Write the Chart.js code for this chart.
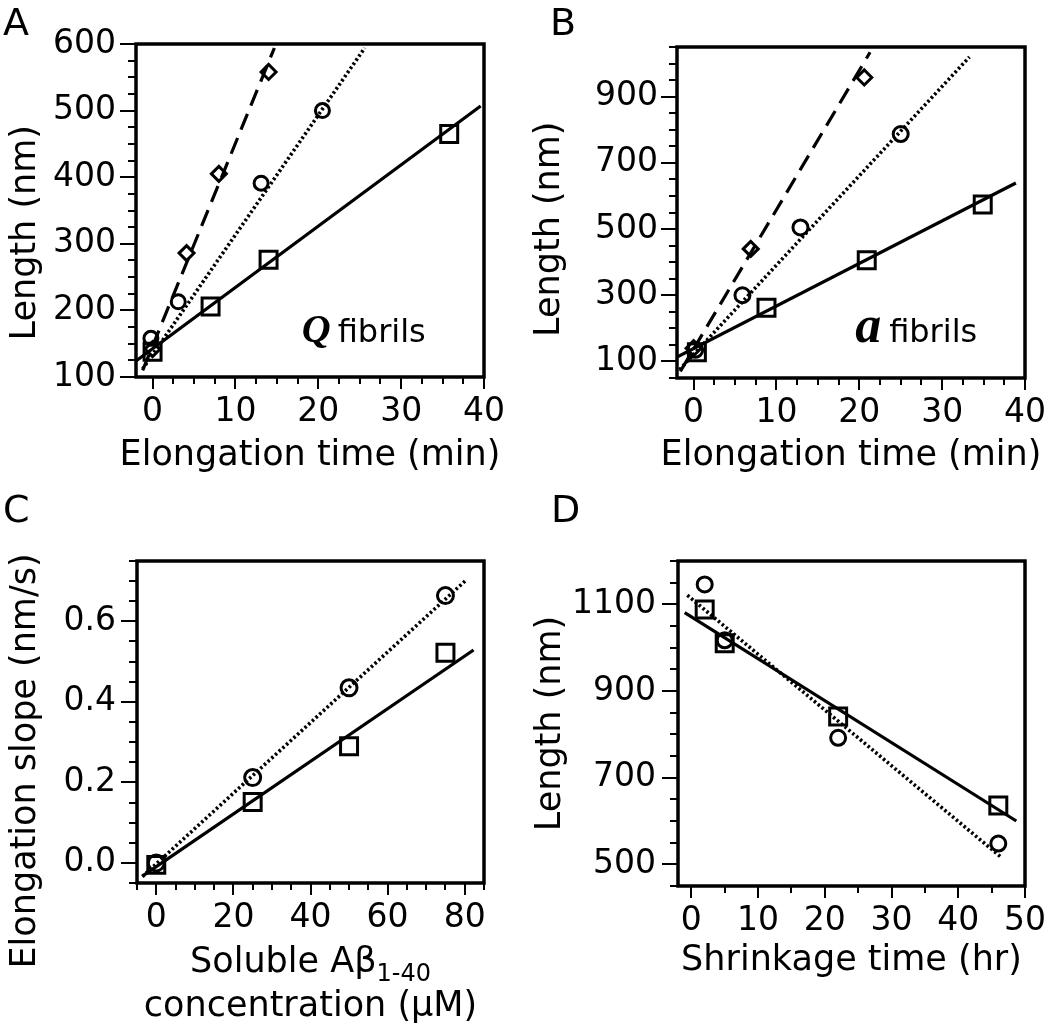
<!DOCTYPE html>
<html lang="en">
<head>
<meta charset="UTF-8">
<title>Fibril elongation and shrinkage</title>
<style>
  body { margin: 0; background: #fff; font-family: "DejaVu Sans", sans-serif; }
  .wrap { position: relative; width: 1050px; height: 1032px; }
  .panel { position: absolute; width: 525px; height: 516px; }
  .letter { position: absolute; font-size: 38px; line-height: 1; color: #000; }
</style>
<script src="https://cdn.jsdelivr.net/npm/chart.js"></script>
</head>
<body>
<div class="wrap">
  <div class="panel" style="left:0;top:0"><canvas id="chartA"></canvas></div>
  <div class="panel" style="left:525px;top:0"><canvas id="chartB"></canvas></div>
  <div class="panel" style="left:0;top:516px"><canvas id="chartC"></canvas></div>
  <div class="panel" style="left:525px;top:516px"><canvas id="chartD"></canvas></div>
  <div class="letter" style="left:3px;top:3px">A</div>
  <div class="letter" style="left:550px;top:3px">B</div>
  <div class="letter" style="left:3px;top:490px">C</div>
  <div class="letter" style="left:551px;top:490px">D</div>
</div>

<script>
// Panel A - Q fibrils (elongation time, min / length, nm)
const aSqX = [0, 7, 14, 35.8];
const aSqY = [138, 206, 276, 465];
const aCiX = [-0.2, 3.1, 13.1, 20.5];
const aCiY = [158, 213, 391, 500];
const aDiX = [0, 4.1, 8, 14];
const aDiY = [142, 286, 405, 558];
const aSqFitX = [-2, 39.6];
const aSqFitY = [124, 507];
const aCiFitX = [-1.2, 25.6];
const aCiFitY = [112, 594];
const aDiFitX = [-1.2, 14.7];
const aDiFitY = [110, 594];

// Panel B - a fibrils
const bSqX = [0.4, 8.8, 20.9, 34.9];
const bSqY = [128, 262, 406, 574];
const bCiX = [0.2, 5.9, 12.9, 25];
const bCiY = [135, 300, 505, 787];
const bDiX = [0, 6.9, 20.6];
const bDiY = [140, 440, 958];
const bSqFitX = [-2, 38.9];
const bSqFitY = [113, 639];
const bCiFitX = [-1.7, 33.3];
const bCiFitY = [75, 1020];
const bDiFitX = [-1.6, 21.3];
const bDiFitY = [70, 1034];

// Panel C - elongation slope vs soluble Abeta concentration
const cConc = [0, 25, 50, 75];
const cSqY = [-0.005, 0.151, 0.29, 0.522];
const cCiY = [0, 0.212, 0.435, 0.664];
const cSqFitX = [-3.6, 82.3];
const cSqFitY = [-0.033, 0.529];
const cCiFitX = [-3.6, 80.3];
const cCiFitY = [-0.034, 0.702];

// Panel D - shrinkage
const dTime = [2, 5, 22, 46];
const dSqY = [1088, 1010, 841, 636];
const dCiY = [1146, 1017, 792, 548];
const dSqFitX = [-1, 48.7];
const dSqFitY = [1081, 600];
const dCiFitX = [-0.6, 46.3];
const dCiFitY = [1121, 518];

const FONT = '"DejaVu Sans", sans-serif';
const TITLE_SIZE = 35;
const xy = (xs, ys) => xs.map((x, i) => ({ x: x, y: ys[i] }));

function pts(xs, ys, style, r) {
    return {
        data: xy(xs, ys), showLine: false, pointStyle: style, pointRadius: r,
        pointBorderWidth: 3, pointBorderColor: '#000', pointBackgroundColor: 'rgba(0,0,0,0)'
    };
}
function fit(xs, ys, dash, w) {
    return {
        data: xy(xs, ys), showLine: true, pointRadius: 0, borderColor: '#000',
        borderWidth: w || 3.2, borderDash: dash, borderCapStyle: 'butt'
    };
}
const SOLID = [];
const DOTTED = [2.5, 2.5];
const DASHED = [17, 9];

// box around the plot and tick marks of two lengths
const frame = {
    id: 'frame',
    afterDraw(chart) {
        const { ctx, chartArea: a, scales } = chart;
        ctx.save();
        ctx.strokeStyle = '#000';
        ctx.lineWidth = 2;
        ctx.beginPath();
        scales.x.ticks.forEach(t => {
            if (t.value < scales.x.min || t.value > scales.x.max) return;
            const px = Math.round(scales.x.getPixelForValue(t.value));
            ctx.moveTo(px, a.bottom);
            ctx.lineTo(px, a.bottom + (t.label !== '' ? 12 : 7));
        });
        scales.y.ticks.forEach(t => {
            if (t.value < scales.y.min || t.value > scales.y.max) return;
            const py = Math.round(scales.y.getPixelForValue(t.value));
            ctx.moveTo(a.left, py);
            ctx.lineTo(a.left - (t.label !== '' ? 16 : 8), py);
        });
        ctx.stroke();
        ctx.lineWidth = 3.5;
        ctx.strokeRect(a.left, a.top, a.right - a.left, a.bottom - a.top);
        ctx.restore();
    }
};

// x-axis title drawn at full width (the built-in one is squeezed to the axis width)
// each line: {dy: baseline below plot bottom, parts: [[text, size, shift], ...]}
function xTitle(lines) {
    return {
        id: 'xTitle',
        afterDraw(chart) {
            const { ctx, chartArea: a } = chart;
            ctx.save();
            ctx.fillStyle = '#000';
            ctx.textBaseline = 'alphabetic';
            lines.forEach(line => {
                const widths = line.parts.map(pt => {
                    ctx.font = pt[1] + 'px ' + FONT;
                    return ctx.measureText(pt[0]).width;
                });
                let x = (a.left + a.right) / 2 - widths.reduce((s, w) => s + w, 0) / 2;
                line.parts.forEach((pt, i) => {
                    ctx.font = pt[1] + 'px ' + FONT;
                    ctx.fillText(pt[0], x, a.bottom + line.dy + pt[2]);
                    x += widths[i];
                });
            });
            ctx.restore();
        }
    };
}

function axis(o, horizontal, p) {
    return {
        type: 'linear', min: o.min, max: o.max,
        title: {
            display: !horizontal, text: o.title, color: '#000',
            font: { family: FONT, size: TITLE_SIZE, lineHeight: 1.2 },
            padding: o.titlePad
        },
        ticks: {
            stepSize: o.step, includeBounds: false, autoSkip: false,
            maxRotation: 0, minRotation: 0, padding: o.tickPad, color: '#000',
            font: { family: FONT, size: 33 },
            callback: v => o.label(v)
        },
        grid: {
            display: true, drawOnChartArea: false, drawTicks: true,
            tickLength: horizontal ? 12 : 16, tickColor: 'rgba(0,0,0,0)'
        },
        border: { display: false },
        afterFit(s) {
            if (horizontal) s.height = 516 - p.area.bottom;
            else s.width = p.area.left;
            s.paddingLeft = 0; s.paddingRight = 0; s.paddingTop = 0; s.paddingBottom = 0;
        }
    };
}

function makeChart(id, p) {
    return new Chart(document.getElementById(id), {
        type: 'scatter',
        data: { datasets: p.datasets },
        options: {
            responsive: true, maintainAspectRatio: false, animation: false,
            layout: { padding: { left: 0, top: p.area.top, right: 525 - p.area.right, bottom: 0 } },
            plugins: { legend: { display: false }, tooltip: { enabled: false } },
            scales: { x: axis(p.x, true, p), y: axis(p.y, false, p) }
        },
        plugins: [frame, xTitle(p.x.title)].concat(p.extra || [])
    });
}

function note(id, letter, letterFont, xv, yv, gap) {
    return {
        id: id,
        afterDraw(chart) {
            const { ctx, scales } = chart;
            const px = scales.x.getPixelForValue(xv);
            const py = scales.y.getPixelForValue(yv);
            ctx.save();
            ctx.fillStyle = '#000';
            ctx.textBaseline = 'alphabetic';
            ctx.font = letterFont;
            ctx.fillText(letter, px, py);
            ctx.font = '32px ' + FONT;
            ctx.fillText('fibrils', px + gap, py);
            ctx.restore();
        }
    };
}

makeChart('chartA', {
    area: { left: 136, top: 44, right: 484, bottom: 377 },
    datasets: [
        fit(aSqFitX, aSqFitY, SOLID), fit(aCiFitX, aCiFitY, DOTTED, 3.6), fit(aDiFitX, aDiFitY, DASHED),
        pts(aSqX, aSqY, 'rect', 12), pts(aCiX, aCiY, 'circle', 7), pts(aDiX, aDiY, 'rectRot', 7.5)
    ],
    x: { min: -2, max: 40, step: 2.5, label: v => v % 10 === 0 ? v : '', tickPad: 4,
         title: [{ dy: 88, parts: [['Elongation time (min)', TITLE_SIZE, 0]] }] },
    y: { min: 100, max: 600, step: 25, label: v => v % 100 === 0 ? v : '',
         title: 'Length (nm)    ', titlePad: { top: 5, bottom: 0 }, tickPad: 4 },
    extra: [note('noteA', 'Q', 'italic bold 40px "Liberation Serif"', 18, 153, 36)]
});

makeChart('chartB', {
    area: { left: 152, top: 47, right: 500, bottom: 378 },
    datasets: [
        fit(bSqFitX, bSqFitY, SOLID), fit(bCiFitX, bCiFitY, DOTTED, 3.6), fit(bDiFitX, bDiFitY, DASHED),
        pts(bSqX, bSqY, 'rect', 12), pts(bCiX, bCiY, 'circle', 7.5), pts(bDiX, bDiY, 'rectRot', 7.5)
    ],
    x: { min: -2, max: 40, step: 2.5, label: v => v % 10 === 0 ? v : '', tickPad: 4,
         title: [{ dy: 87, parts: [['Elongation time (min)', TITLE_SIZE, 0]] }] },
    y: { min: 50, max: 1050, step: 50, label: v => (v - 100) % 200 === 0 ? v : '',
         title: 'Length (nm)   ', titlePad: { top: 4, bottom: 0 }, tickPad: 3 },
    extra: [note('noteB', 'a', 'italic bold 52px "Liberation Serif"', 19.5, 158, 34)]
});

makeChart('chartC', {
    area: { left: 137, top: 45, right: 484, bottom: 367 },
    datasets: [
        fit(cSqFitX, cSqFitY, SOLID), fit(cCiFitX, cCiFitY, DOTTED, 3.6),
        pts(cConc, cSqY, 'rect', 12), pts(cConc, cCiY, 'circle', 8)
    ],
    x: { min: -5, max: 85, step: 5, label: v => v % 20 === 0 ? v : '', tickPad: 4,
         title: [
             { dy: 89, parts: [['Soluble A\u03B2', TITLE_SIZE, 0], ['1-40', 24, 9]] },
             { dy: 133, parts: [['concentration (\u03BCM)', TITLE_SIZE, 0]] }
         ] },
    y: { min: -0.05, max: 0.75, step: 0.05,
         label: v => Math.round(v * 100) % 20 === 0 ? v.toFixed(1) : '',
         title: 'Elongation slope (nm/s)       ', titlePad: { top: 5, bottom: 0 }, tickPad: 5 }
});

makeChart('chartD', {
    area: { left: 153, top: 45, right: 500, bottom: 370 },
    datasets: [
        fit(dSqFitX, dSqFitY, SOLID), fit(dCiFitX, dCiFitY, DOTTED, 3.6),
        pts(dTime, dSqY, 'rect', 12), pts(dTime, dCiY, 'circle', 7.5)
    ],
    x: { min: -2, max: 50, step: 5, label: v => v % 10 === 0 ? v : '', tickPad: 4,
         title: [{ dy: 84, parts: [['Shrinkage time (hr)', TITLE_SIZE, 0]] }] },
    y: { min: 450, max: 1200, step: 50, label: v => (v - 500) % 200 === 0 ? v : '',
         title: 'Length (nm)', titlePad: { top: 5, bottom: 0 }, tickPad: 6 }
});
</script>
</body>
</html>
